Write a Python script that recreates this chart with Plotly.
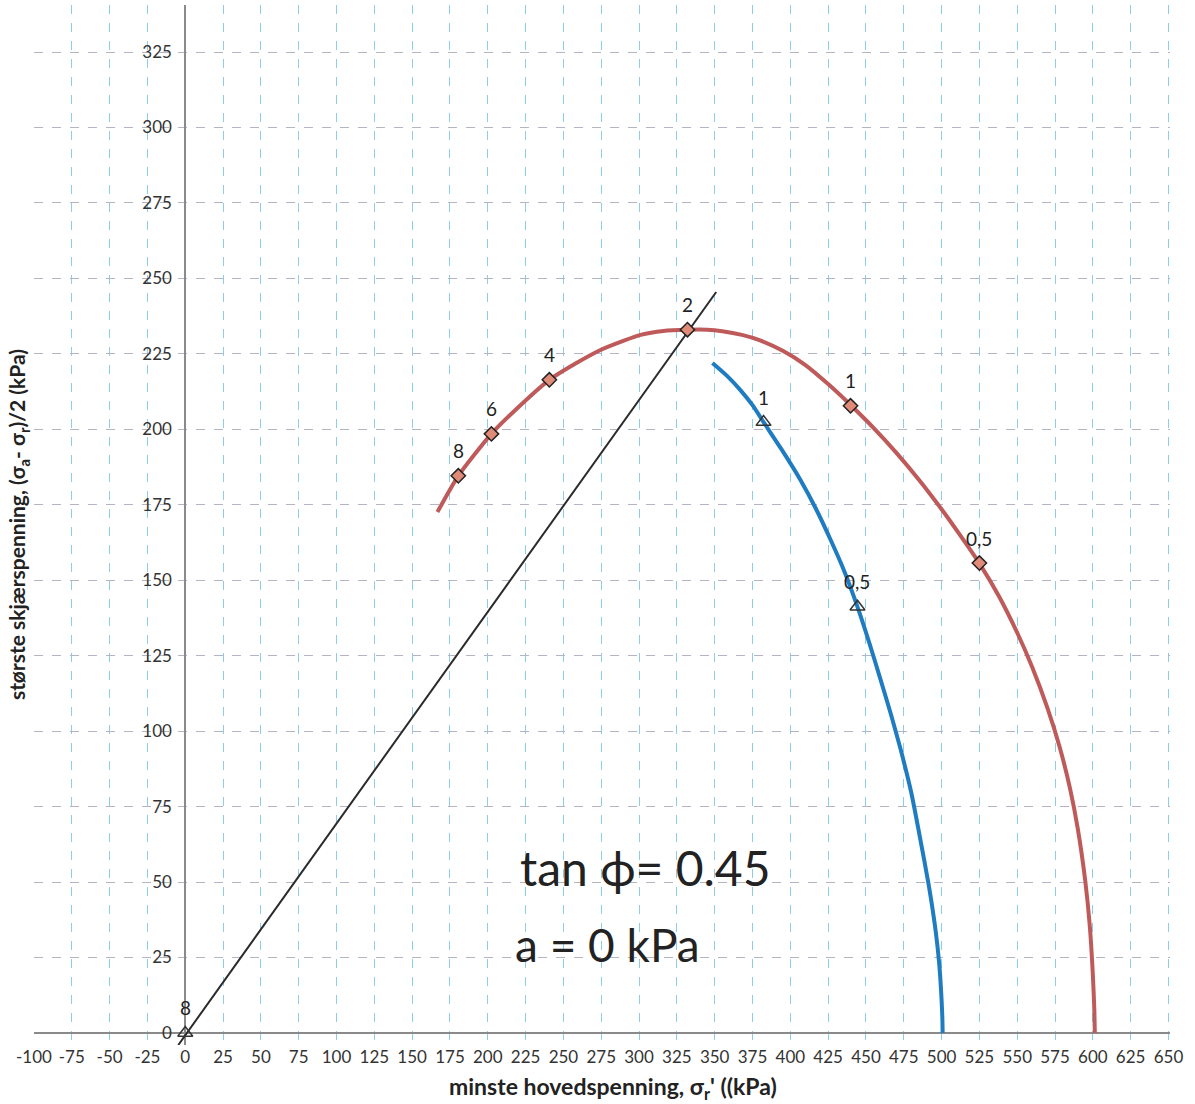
import plotly.graph_objects as go

# ---- data ----
# red stress path (curve)
red_x = [166.7, 180.5, 202.4, 221.6, 240.7, 258.0, 274.5, 290.0, 301.0, 316.0, 332.0, 345.0,
         355.0, 368.0, 380.0, 395.0, 410.0, 425.0, 440.0, 455.0, 470.0, 485.0, 500.0,
         512.0, 525.0, 538.0, 550.0, 560.0, 570.0, 578.0, 585.0, 590.0, 595.0, 598.0,
         600.0, 601.0, 601.3]
red_y = [172.6, 184.6, 198.5, 208.0, 216.4, 221.8, 226.3, 229.4, 231.3, 232.6, 233.0, 233.0,
         232.5, 231.3, 229.5, 226.0, 221.3, 215.0, 208.0, 200.5, 192.3, 183.3, 173.5,
         165.1, 155.6, 144.6, 132.6, 121.1, 107.6, 94.8, 80.8, 67.8, 50.3, 35.3,
         19.3, 7.3, 0.0]
# red labelled points
red_pt_x = [180.5, 202.4, 240.7, 332.0, 439.8, 525.0]
red_pt_y = [184.6, 198.5, 216.4, 233.0, 207.8, 155.7]
red_pt_lbl = ["8", "6", "4", "2", "1", "0,5"]

# blue stress path (curve)
blue_x = [348.5, 358.0, 367.0, 375.0, 382.3, 394.0, 406.7, 417.0, 426.6, 436.0, 444.4,
          452.0, 459.7, 466.5, 473.0, 480.0, 486.0, 491.5, 496.0, 498.5, 500.0, 500.5, 500.7]
blue_y = [222.0, 217.8, 213.0, 208.0, 202.4, 193.5, 183.2, 173.6, 163.4, 152.6, 141.2,
          129.6, 117.0, 105.6, 93.8, 79.5, 64.0, 49.0, 34.1, 22.5, 10.9, 5.0, 0.0]
# blue labelled points
blue_pt_x = [382.3, 444.4]
blue_pt_y = [202.4, 141.2]
blue_pt_lbl = ["1", "0,5"]

# origin point
orig_x = [0]
orig_y = [0]
orig_lbl = ["8"]

# failure line (tan phi)
line_x = [-4.6, 351.0]
line_y = [-4.0, 245.5]

x_ticks = list(range(-100, 651, 25))
y_ticks = list(range(0, 326, 25))

# ---- figure ----
FONT = "Lato"
fig = go.Figure()

fig.add_trace(go.Scatter(x=line_x, y=line_y, mode="lines",
                         line=dict(color="#2b2b2b", width=2), showlegend=False))
fig.add_trace(go.Scatter(x=red_x, y=red_y, mode="lines", line_shape="spline",
                         line=dict(color="#bf5a5a", width=4, smoothing=0.6), showlegend=False))
fig.add_trace(go.Scatter(x=blue_x, y=blue_y, mode="lines", line_shape="spline",
                         line=dict(color="#1f7cc0", width=4, smoothing=0.6), showlegend=False))
fig.add_trace(go.Scatter(x=red_pt_x, y=red_pt_y, mode="markers",
                         marker=dict(symbol="diamond", size=11, color="#e08a78",
                                     line=dict(color="#222", width=1.5)),
                         showlegend=False))
fig.add_trace(go.Scatter(x=blue_pt_x, y=blue_pt_y, mode="markers",
                         marker=dict(symbol="triangle-up-open", size=13, color="#333",
                                     line=dict(width=1.5)),
                         showlegend=False))
fig.add_trace(go.Scatter(x=orig_x, y=orig_y, mode="markers",
                         marker=dict(symbol="triangle-up-open", size=13, color="#333",
                                     line=dict(width=1.5)),
                         showlegend=False))

# point labels
for xs, ys, ls in [(red_pt_x, red_pt_y, red_pt_lbl), (blue_pt_x, blue_pt_y, blue_pt_lbl),
                   (orig_x, orig_y, orig_lbl)]:
    for xv, yv, lv in zip(xs, ys, ls):
        fig.add_annotation(x=xv, y=yv, xref="x", yref="y", text=lv, showarrow=False,
                           yshift=25, font=dict(family=FONT, size=19, color="#222"))

fig.add_annotation(x=304, y=54.7, xref="x", yref="y", text="tan ϕ= 0.45",
                   showarrow=False, font=dict(family=FONT, size=48, color="#222"))
fig.add_annotation(x=279, y=29.2, xref="x", yref="y", text="a = 0 kPa",
                   showarrow=False, font=dict(family=FONT, size=46, color="#222"))

# axis titles
fig.add_annotation(x=-0.014, y=0.5, xref="paper", yref="paper", textangle=-90,
                   text="<b>største skjærspenning, (σ<sub>a</sub>- σ<sub>r</sub>)/2 (kPa)</b>",
                   showarrow=False, font=dict(family=FONT, size=21, color="#222"),
                   xanchor="center", yanchor="middle")
fig.add_annotation(x=0.51, y=-0.041, xref="paper", yref="paper",
                   text="<b>minste hovedspenning, σ<sub>r</sub>' ((kPa)</b>",
                   showarrow=False, font=dict(family=FONT, size=23, color="#222"),
                   xanchor="center", yanchor="middle")

fig.update_layout(
    width=1195, height=1104,
    margin=dict(l=34, r=25, t=5, b=59),
    plot_bgcolor="white", paper_bgcolor="white",
    xaxis=dict(range=[-100, 651], tickvals=x_ticks, ticktext=[str(v) for v in x_ticks],
               showgrid=True, gridcolor="#8ccdec", griddash="dash", gridwidth=1,
               zeroline=True, zerolinecolor="#8a8a8a", zerolinewidth=1.5,
               showline=False, ticks="",
               tickfont=dict(family=FONT, size=17, color="#333")),
    yaxis=dict(range=[-4, 340.6], tickvals=y_ticks, ticktext=[str(v) for v in y_ticks],
               anchor="free", position=100 / 751, side="left",
               showgrid=True, gridcolor="#b4b4c4", griddash="dash", gridwidth=1,
               zeroline=True, zerolinecolor="#8a8a8a", zerolinewidth=2,
               showline=False, ticks="outside", ticklen=10, tickcolor="rgba(0,0,0,0)",
               tickfont=dict(family=FONT, size=17, color="#333")),
)

fig.write_html("out.html")
